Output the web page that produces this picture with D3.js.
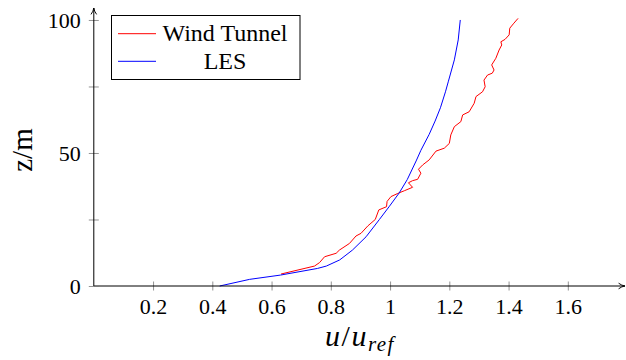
<!DOCTYPE html>
<html>
<head>
<meta charset="utf-8">
<script src="https://cdn.jsdelivr.net/npm/d3@7"></script>
</head>
<body style="margin:0;background:#fff">
<div id="chart"></div>
<script>
// Wind tunnel profile (u/u_ref, z in m)
const tunnelU = [0.632, 0.745, 0.762, 0.779, 0.818, 0.829, 0.863, 0.885, 0.902, 0.925, 0.950, 0.962, 0.988, 0.990, 1.003, 1.026, 1.048, 1.076, 1.062, 1.076, 1.093, 1.104, 1.096, 1.110, 1.132, 1.155, 1.183, 1.200, 1.205, 1.217, 1.239, 1.245, 1.267, 1.284, 1.290, 1.312, 1.321, 1.317, 1.329, 1.345, 1.351, 1.343, 1.357, 1.368, 1.377, 1.374, 1.388, 1.402, 1.404, 1.418, 1.432]
const tunnelZ = [4.5, 7.5, 8.8, 11, 12.3, 13.5, 16, 18.8, 19.8, 22.6, 25, 28.6, 29.8, 31.8, 33.6, 34.8, 35.8, 37.1, 38.8, 39.6, 40.1, 42.4, 43.9, 45.5, 47.4, 50.7, 51.8, 53.6, 56.8, 59.9, 61.8, 64.3, 65.5, 68.7, 71.2, 73, 74.9, 77.4, 79.3, 80, 81.2, 83.1, 85.6, 88.7, 90.6, 91.8, 92.7, 94.4, 96.9, 98.8, 100.6]

// LES profile
const lesU = [0.425, 0.526, 0.63, 0.755, 0.785, 0.83, 0.873, 0.919, 0.964, 0.998, 1.031, 1.058, 1.088, 1.104, 1.132, 1.152, 1.170, 1.187, 1.197, 1.217, 1.230, 1.237]
const lesZ = [0, 2.5, 4.1, 6.6, 7.5, 9.8, 13.5, 18.5, 25, 30, 35, 40, 47, 51, 57, 62, 67, 73, 77, 85, 92.5, 100]

const xTicks = [0.2, 0.4, 0.6, 0.8, 1, 1.2, 1.4, 1.6]
const yTicks = [0, 25, 50, 75, 100]
const yTickLabels = ["0", "", "50", "", "100"]

const seriesNames = ["Wind Tunnel", "LES"]
const seriesColors = ["#ff0000", "#0000ff"]

const FONT = '"Liberation Serif"'
const width = 626, height = 360

const svg = d3.select("#chart").append("svg")
  .attr("width", width)
  .attr("height", height)
  .style("display", "block")

const x = d3.scaleLinear().domain([0, 1.793]).range([93.8, 625])
const y = d3.scaleLinear().domain([0, 104.5]).range([286, 8])

const tunnel = tunnelU.map((u, i) => [u, tunnelZ[i]])
const les = lesU.map((u, i) => [u, lesZ[i]])

const line = d3.line()
  .x(d => x(d[0]))
  .y(d => y(d[1]))

svg.append("path")
  .datum(tunnel)
  .attr("d", line)
  .attr("fill", "none")
  .attr("stroke", seriesColors[0])
  .attr("stroke-width", 1)

svg.append("path")
  .datum(les)
  .attr("d", line)
  .attr("fill", "none")
  .attr("stroke", seriesColors[1])
  .attr("stroke-width", 1)

// arrow heads
const defs = svg.append("defs")
defs.append("marker")
  .attr("id", "arrow")
  .attr("viewBox", "0 0 10 10")
  .attr("refX", 9)
  .attr("refY", 5)
  .attr("markerWidth", 8)
  .attr("markerHeight", 8)
  .attr("markerUnits", "userSpaceOnUse")
  .attr("orient", "auto")
  .append("path")
  .attr("d", "M1,1.5 Q5,4.5 9,5 Q5,5.5 1,8.5")
  .attr("fill", "none")
  .attr("stroke", "#000")
  .attr("stroke-width", 1.2)

// x axis
const xAxis = svg.append("g")
  .attr("transform", `translate(0,${y(0)})`)
  .call(d3.axisBottom(x).tickValues(xTicks).tickSizeInner(0).tickSizeOuter(0).tickPadding(0).tickFormat(d3.format("")))
xAxis.select(".domain").remove()
xAxis.selectAll(".tick text")
  .attr("y", 28)
  .attr("dy", 0)
  .attr("fill", "#000")
  .style("font-family", FONT)
  .style("font-size", "22px")
xAxis.selectAll(".tick").append("line")
  .attr("y1", -4.5).attr("y2", 4.5)
  .attr("stroke", "#777").attr("stroke-width", 0.8)

svg.append("line")
  .attr("x1", x(0)).attr("x2", x.range()[1])
  .attr("y1", y(0)).attr("y2", y(0))
  .attr("stroke", "#000").attr("stroke-width", 1)
  .attr("marker-end", "url(#arrow)")

// y axis
const yAxis = svg.append("g")
  .attr("transform", `translate(${x(0)},0)`)
  .call(d3.axisLeft(y).tickValues(yTicks).tickSizeInner(0).tickSizeOuter(0).tickPadding(0)
    .tickFormat((d, i) => yTickLabels[i]))
yAxis.select(".domain").remove()
yAxis.selectAll(".tick text")
  .attr("x", -13)
  .attr("dy", "0.34em")
  .attr("fill", "#000")
  .style("font-family", FONT)
  .style("font-size", "22px")
yAxis.selectAll(".tick").append("line")
  .attr("x1", -5).attr("x2", 5)
  .attr("stroke", "#777").attr("stroke-width", 0.8)

svg.append("line")
  .attr("x1", x(0)).attr("x2", x(0))
  .attr("y1", y(0)).attr("y2", y.range()[1])
  .attr("stroke", "#000").attr("stroke-width", 1)
  .attr("marker-end", "url(#arrow)")

// axis labels
const xl = svg.append("text")
  .attr("x", 360).attr("y", 346)
  .attr("text-anchor", "middle")
  .style("font-family", FONT)
  .style("font-size", "30px")
  .style("font-style", "italic")
  .style("letter-spacing", "1.5px")
xl.append("tspan").text("u")
xl.append("tspan").style("font-style", "normal").text("/")
xl.append("tspan").text("u")
xl.append("tspan").style("font-size", "21px").attr("dy", 5).text("ref")

svg.append("text")
  .attr("transform", "translate(32,150) rotate(-90)")
  .attr("text-anchor", "middle")
  .style("font-family", FONT)
  .style("font-size", "29px")
  .text("z/m")

// legend
const legend = svg.append("g")
legend.append("rect")
  .attr("x", 111.5).attr("y", 15.5)
  .attr("width", 188.5).attr("height", 64)
  .attr("fill", "#fff")
  .attr("stroke", "#000").attr("stroke-width", 1)

seriesNames.forEach((name, i) => {
  const ly = 33.7 + i * 27.6
  legend.append("line")
    .attr("x1", 118).attr("x2", 156)
    .attr("y1", ly).attr("y2", ly)
    .attr("stroke", seriesColors[i]).attr("stroke-width", 1)
  legend.append("text")
    .attr("x", 225).attr("y", ly + 7.5)
    .attr("text-anchor", "middle")
    .style("font-family", FONT)
    .style("font-size", "24px")
    .text(name)
})
</script>
</body>
</html>
